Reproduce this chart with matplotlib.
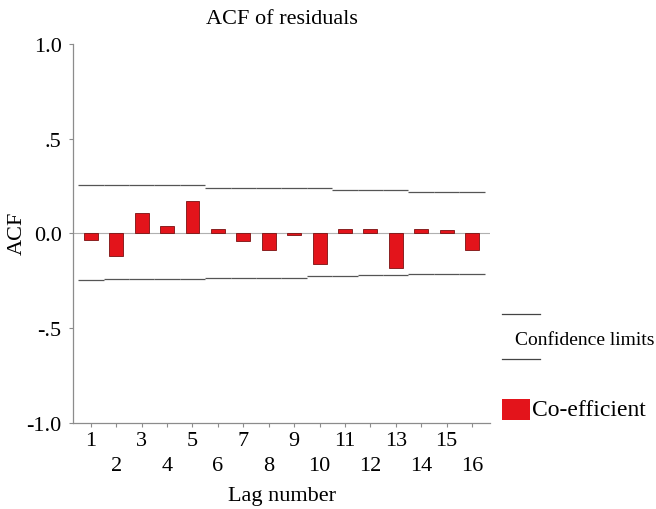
import numpy as np
import matplotlib.pyplot as plt
from matplotlib.lines import Line2D
from matplotlib.patches import Rectangle

plt.rcParams['font.family'] = ['Liberation Serif', 'DejaVu Serif']

# data
lags = np.arange(1, 17)
acf = [-0.035, -0.12, 0.11, 0.04, 0.17, 0.025, -0.04, -0.09,
       -0.01, -0.16, 0.025, 0.025, -0.185, 0.025, 0.02, -0.09]
upper = [0.255, 0.255, 0.255, 0.255, 0.255, 0.24, 0.24, 0.24,
         0.24, 0.24, 0.23, 0.23, 0.23, 0.22, 0.22, 0.22]
lower = [-0.245, -0.24, -0.24, -0.24, -0.24, -0.236, -0.236, -0.236,
         -0.236, -0.226, -0.224, -0.222, -0.218, -0.217, -0.215, -0.213]
ytick_vals = [-1.0, -0.5, 0.0, 0.5, 1.0]
ytick_labels = ['-1.0', '-.5', '0.0', '.5', '1.0']

red = '#e3141b'
grey = '#8c8c8c'

fig = plt.figure(figsize=(6.56, 5.10), dpi=100)
ax = fig.add_axes([0.111, 0.169, 0.636, 0.743])

ax.axhline(0, color='#b0b0b0', lw=0.8, zorder=1)
ax.bar(lags, acf, width=0.55, color=red, edgecolor='#7a1010', linewidth=0.6, zorder=2)

# confidence limits, one short segment per lag
ax.hlines(upper, lags - 0.5, lags + 0.5, color='#555555', lw=0.9)
ax.hlines(lower, lags - 0.5, lags + 0.5, color='#555555', lw=0.9)

ax.set_xlim(0.29, 16.71)
ax.set_ylim(-1.0, 1.0)
ax.set_yticks(ytick_vals)
ax.set_yticklabels(ytick_labels, fontsize=16)
ax.set_xticks(lags)
ax.set_xticklabels([str(l) if l % 2 else '\n' + str(l) for l in lags], fontsize=16,
                   linespacing=1.4)

for s in ['top', 'right']:
    ax.spines[s].set_visible(False)
for s in ['left', 'bottom']:
    ax.spines[s].set_color(grey)
    ax.spines[s].set_linewidth(0.9)
ax.tick_params(axis='both', colors=grey, length=3, width=0.8, labelcolor='black')
ax.tick_params(axis='y', pad=5)
ax.tick_params(axis='x', pad=3)

fig.text(0.43, 0.962, 'ACF of residuals', ha='center', va='center', fontsize=16)
fig.text(0.43, 0.027, 'Lag number', ha='center', va='center', fontsize=16)
fig.text(0.026, 0.543, 'ACF', ha='center', va='center', rotation=90, fontsize=16)

# legend, drawn by hand to the right of the axes
fig.add_artist(Line2D([0.765, 0.823], [0.382, 0.382], color='#444444', lw=0.9))
fig.add_artist(Line2D([0.765, 0.823], [0.294, 0.294], color='#444444', lw=0.9))
fig.text(0.785, 0.333, 'Confidence limits', ha='left', va='center', fontsize=14)
fig.add_artist(Rectangle((0.765, 0.175), 0.043, 0.041, transform=fig.transFigure,
                         facecolor=red, edgecolor='none'))
fig.text(0.811, 0.196, 'Co-efficient', ha='left', va='center', fontsize=17)

fig.savefig('out.png', dpi=100)
